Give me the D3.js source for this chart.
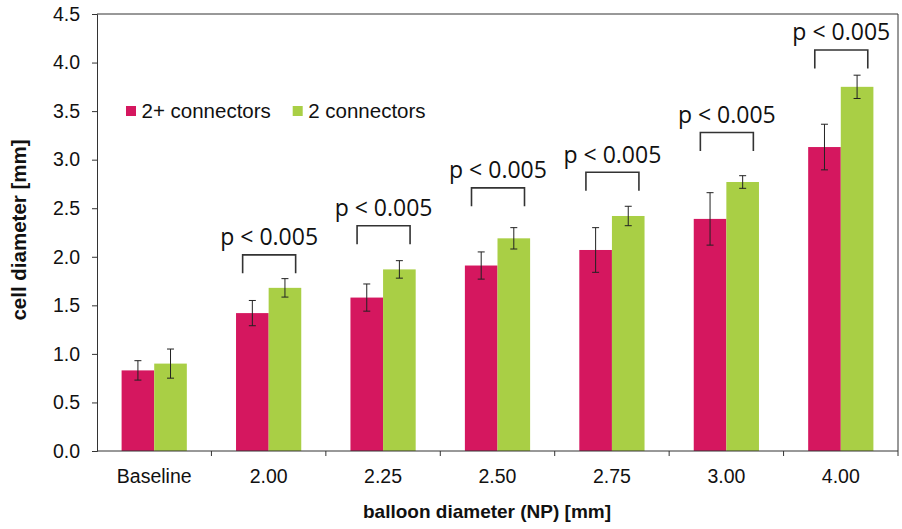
<!DOCTYPE html>
<html>
<head>
<meta charset="utf-8">
<script src="https://cdn.jsdelivr.net/npm/d3@7"></script>
<style>
  body { margin: 0; background: #fff; }
  svg { display: block; }
</style>
</head>
<body>
<svg id="chart" width="902" height="529"></svg>
<script>
// ---- data ----
const categories = ["Baseline", "2.00", "2.25", "2.50", "2.75", "3.00", "4.00"];
const seriesNames = ["2+ connectors", "2 connectors"];
const pinkValues = [0.83, 1.42, 1.58, 1.91, 2.07, 2.39, 3.13];
const pinkErrors = [0.10, 0.13, 0.14, 0.14, 0.23, 0.27, 0.235];
const greenValues = [0.90, 1.68, 1.87, 2.19, 2.42, 2.77, 3.75];
const greenErrors = [0.15, 0.095, 0.09, 0.11, 0.10, 0.065, 0.12];
const yTicks = [0, 0.5, 1.0, 1.5, 2.0, 2.5, 3.0, 3.5, 4.0, 4.5];
const sigCategories = ["2.00", "2.25", "2.50", "2.75", "3.00", "4.00"];
const sigLabels = ["p < 0.005", "p < 0.005", "p < 0.005", "p < 0.005", "p < 0.005", "p < 0.005"];
const sigHeights = [2.02, 2.32, 2.71, 2.87, 3.28, 4.13];

// ---- layout / style ----
const colors = ["#D5175F", "#A9CF45"];
const pLeft = 97, pRight = 898, pTop = 14, pBottom = 451;
const svg = d3.select("#chart");

const y = d3.scaleLinear().domain([0, 4.5]).range([pBottom, pTop]);
const xb = d3.scaleBand().domain(categories).range([pLeft, pRight]).padding(0);
const x0 = d3.scaleBand().domain(categories).range([pLeft, pRight]).paddingInner(0.43).paddingOuter(0.215);
const x1 = d3.scaleBand().domain(seriesNames).range([0, x0.bandwidth()]);

const rows = categories.map((c, i) => ({
  cat: c,
  vals: [
    { s: seriesNames[0], v: pinkValues[i], e: pinkErrors[i], col: colors[0] },
    { s: seriesNames[1], v: greenValues[i], e: greenErrors[i], col: colors[1] }
  ]
}));

// bars
const groups = svg.append("g").selectAll("g").data(rows).join("g")
  .attr("transform", d => `translate(${x0(d.cat)},0)`);
groups.selectAll("rect").data(d => d.vals).join("rect")
  .attr("x", d => x1(d.s))
  .attr("y", d => y(d.v))
  .attr("width", x1.bandwidth())
  .attr("height", d => y(0) - y(d.v))
  .attr("fill", d => d.col);

// error bars
const capW = 3.5;
groups.selectAll("g.err").data(d => d.vals).join("g").attr("class", "err")
  .each(function(d) {
    const g = d3.select(this);
    const cx = x1(d.s) + x1.bandwidth() / 2;
    g.append("line").attr("x1", cx).attr("x2", cx).attr("y1", y(d.v + d.e)).attr("y2", y(d.v - d.e));
    g.append("line").attr("x1", cx - capW).attr("x2", cx + capW).attr("y1", y(d.v + d.e)).attr("y2", y(d.v + d.e));
    g.append("line").attr("x1", cx - capW).attr("x2", cx + capW).attr("y1", y(d.v - d.e)).attr("y2", y(d.v - d.e));
  })
  .selectAll("line").attr("stroke", "#222").attr("stroke-width", 1);

// significance brackets
const legLen = 18.5;
const sig = svg.append("g");
sigCategories.forEach((c, i) => {
  const cx = x0(c) + x0.bandwidth() / 2 + 0.5;
  const hw = 26.5;
  const yt = y(sigHeights[i]);
  sig.append("path")
    .attr("d", `M${cx - hw},${yt + legLen}V${yt}H${cx + hw}V${yt + legLen}`)
    .attr("fill", "none").attr("stroke", "#333").attr("stroke-width", 1.6);
  sig.append("text")
    .attr("x", cx).attr("y", yt - 9.5)
    .attr("text-anchor", "middle")
    .attr("font-family", "'Open Sans', sans-serif")
    .attr("font-size", 23)
    .attr("fill", "#111")
    .text(sigLabels[i]);
});

// y axis
const yAxis = d3.axisLeft(y).tickValues(yTicks).tickFormat(d3.format(".1f")).tickSize(5).tickPadding(12);
const ya = svg.append("g").attr("transform", `translate(${pLeft},0)`).call(yAxis);
ya.select(".domain").attr("stroke", "#333");
ya.selectAll(".tick line").attr("stroke", "#333");
ya.selectAll("text").attr("font-family", "'Liberation Sans', Arial, sans-serif").attr("font-size", 19.5).attr("fill", "#111");

// x axis: ticks at category boundaries
const xa = svg.append("g");
xa.append("line").attr("x1", pLeft).attr("x2", pRight).attr("y1", pBottom).attr("y2", pBottom).attr("stroke", "#333");
const boundaries = categories.map(c => xb(c)).concat([pRight]);
xa.selectAll("line.t").data(boundaries.slice(1)).join("line").attr("class", "t")
  .attr("x1", d => d).attr("x2", d => d).attr("y1", pBottom).attr("y2", pBottom + 5).attr("stroke", "#333");
xa.selectAll("text").data(categories).join("text")
  .attr("x", d => xb(d) + xb.bandwidth() / 2)
  .attr("y", 483)
  .attr("text-anchor", "middle")
  .attr("font-family", "'Liberation Sans', Arial, sans-serif")
  .attr("font-size", 19.5)
  .attr("fill", "#111")
  .text(d => d);

// frame top and right
svg.append("path").attr("d", `M${pLeft},${pTop}H${pRight}V${pBottom}`).attr("fill", "none").attr("stroke", "#333");

// axis titles
svg.append("text").attr("x", 487).attr("y", 518).attr("text-anchor", "middle")
  .attr("font-family", "'Liberation Sans', Arial, sans-serif").attr("font-weight", "bold").attr("font-size", 19)
  .attr("fill", "#111").text("balloon diameter (NP) [mm]");
svg.append("text").attr("transform", `translate(26,230) rotate(-90)`).attr("text-anchor", "middle")
  .attr("font-family", "'Liberation Sans', Arial, sans-serif").attr("font-weight", "bold").attr("font-size", 20.5)
  .attr("fill", "#111").text("cell diameter [mm]");

// legend
const legendX = [126, 292.7];
const leg = svg.append("g");
seriesNames.forEach((s, i) => {
  leg.append("rect").attr("x", legendX[i]).attr("y", 106).attr("width", 10).attr("height", 10).attr("fill", colors[i]);
  leg.append("text").attr("x", legendX[i] + 15.5).attr("y", 118)
    .attr("font-family", "'Liberation Sans', Arial, sans-serif").attr("font-size", 20.5)
    .attr("fill", "#111").text(s);
});
</script>
</body>
</html>
